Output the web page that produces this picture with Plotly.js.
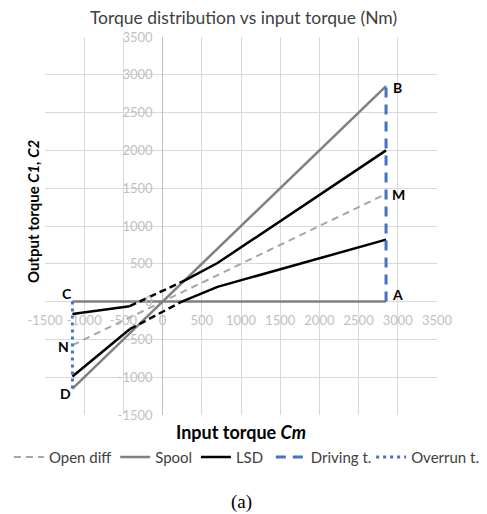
<!DOCTYPE html>
<html>
<head>
<meta charset="utf-8">
<script src="https://cdn.plot.ly/plotly-3.0.1.min.js"></script>
<style>
html,body{margin:0;padding:0;background:#fff;}
#chart{width:487px;height:514px;}
</style>
</head>
<body>
<div id="chart"></div>
<script>
// ---- data ----
const openDiffX = [-1150, 2850];
const openDiffY = [-575, 1425];

const spoolX = [-1150, 2850, null, -1150, 2850];
const spoolY = [-1150, 2850, null, 0, 0];

const lsdSolidX = [-1150, -420, null, 285, 700, 2850, null, -1150, -420, null, 245, 700, 2850];
const lsdSolidY = [-165, -60, null, 280, 510, 2000, null, -990, -365, null, 0, 195, 820];

const lsdDashX = [-420, 285, null, -420, 245];
const lsdDashY = [-60, 280, null, -365, 0];

const drivingX = [2850, 2850];
const drivingY = [0, 2850];

const overrunX = [-1150, -1150];
const overrunY = [0, -1150];

const pointLabels = ['C', 'N', 'D', 'A', 'M', 'B'];
const pointLabelX = [-1225, -1270, -1235, 3000, 3010, 3000];
const pointLabelY = [110, -590, -1210, 100, 1420, 2830];

const tickVals = [-1500, -1000, -500, 0, 500, 1000, 1500, 2000, 2500, 3000, 3500];

const legendNames = ['Open diff', 'Spool', 'LSD', 'Driving t.', 'Overrun t.'];

const FONT = 'Lato, "Open Sans", sans-serif';

const traces = [
  {x: openDiffX, y: openDiffY, mode: 'lines', name: legendNames[0], legend: 'legend',
   line: {color: '#a6a6a6', width: 2, dash: '7px,5px'}},
  {x: spoolX, y: spoolY, mode: 'lines', name: legendNames[1], legend: 'legend2',
   line: {color: '#808080', width: 2.5}},
  {x: lsdSolidX, y: lsdSolidY, mode: 'lines', name: legendNames[2], legend: 'legend3',
   line: {color: '#000000', width: 2.5}},
  {x: lsdDashX, y: lsdDashY, mode: 'lines', name: legendNames[2], showlegend: false,
   line: {color: '#000000', width: 2.5, dash: '7px,4px'}},
  {x: drivingX, y: drivingY, mode: 'lines', name: legendNames[3], legend: 'legend4',
   line: {color: '#4472c4', width: 3, dash: '10px,7px'}},
  {x: overrunX, y: overrunY, mode: 'lines', name: legendNames[4], legend: 'legend5',
   line: {color: '#4472c4', width: 3, dash: '3px,4px'}}
];

const annotations = pointLabels.map((t, i) => ({
  x: pointLabelX[i], y: pointLabelY[i], xref: 'x', yref: 'y', text: '<b>' + t + '</b>',
  showarrow: false, font: {family: FONT, size: 14, color: '#000'}
}));

annotations.push({
  xref: 'paper', yref: 'paper', x: -0.03, xanchor: 'center', y: 0.54, yanchor: 'middle',
  text: '<b>Output torque <i>C1, C2</i></b>', textangle: -90, showarrow: false,
  font: {family: FONT, size: 15, color: '#000'}
});
annotations.push({
  xref: 'paper', yref: 'paper', x: 0.5, xanchor: 'center', y: -0.045, yanchor: 'middle',
  text: '<b>Input torque <i>Cm</i></b>', showarrow: false,
  font: {family: FONT, size: 18, color: '#000'}
});
annotations.push({
  xref: 'paper', yref: 'paper', x: 0.5, xanchor: 'center', y: -0.23, yanchor: 'middle',
  text: '(a)', showarrow: false,
  font: {family: '"Liberation Serif", "DejaVu Serif", serif', size: 19, color: '#000'}
});

const legendX = [-0.092, 0.179, 0.385, 0.576, 0.832];
function mkLegend(x) {
  return {orientation: 'h', x: x, xanchor: 'left', y: -0.112, yanchor: 'middle',
          font: {family: FONT, size: 15, color: '#404040'}, bgcolor: 'rgba(0,0,0,0)',
          borderwidth: 0};
}

const layout = {
  width: 487, height: 514,
  margin: {l: 45, r: 50, t: 37, b: 99, autoexpand: false},
  paper_bgcolor: '#fff', plot_bgcolor: '#fff',
  title: {text: 'Torque distribution vs input torque (Nm)', x: 0.5, xanchor: 'center',
          y: 0.966, yanchor: 'middle', font: {family: FONT, size: 17.5, color: '#404040'}},
  xaxis: {range: [-1500, 3500], tickvals: tickVals, ticktext: tickVals.map(String),
          anchor: 'free', position: 0.3, showgrid: true, gridcolor: '#d9d9d9', gridwidth: 1,
          zeroline: true, zerolinecolor: '#bfbfbf', zerolinewidth: 1,
          showline: false, ticks: '', ticklabelstandoff: 9, automargin: false,
          tickfont: {family: FONT, size: 13, color: '#bfbfbf'}, fixedrange: true},
  yaxis: {range: [-1500, 3500], tickvals: tickVals, ticktext: tickVals.map(String),
          anchor: 'free', position: 0.3, showgrid: true, gridcolor: '#d9d9d9', gridwidth: 1,
          zeroline: true, zerolinecolor: '#d9d9d9', zerolinewidth: 1,
          showline: false, ticks: '', ticklabelstandoff: 10, automargin: false,
          tickfont: {family: FONT, size: 13, color: '#bfbfbf'}, fixedrange: true},
  showlegend: true,
  legend: mkLegend(legendX[0]),
  legend2: mkLegend(legendX[1]),
  legend3: mkLegend(legendX[2]),
  legend4: mkLegend(legendX[3]),
  legend5: mkLegend(legendX[4]),
  annotations: annotations
};

Plotly.newPlot('chart', traces, layout, {displayModeBar: false, staticPlot: true});
</script>
</body>
</html>
